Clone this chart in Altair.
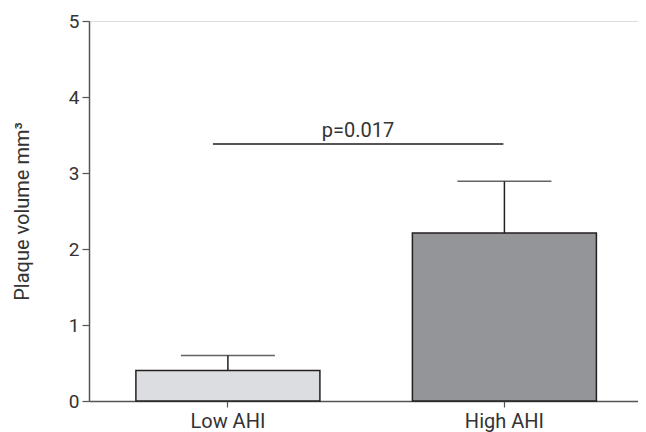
import altair as alt
import pandas as pd

groups = ["Low AHI", "High AHI"]
means = [0.40, 2.21]
err_top = [0.60, 2.89]
fills = ["#dcdde0", "#939598"]
y_ticks = [0, 1, 2, 3, 4, 5]
sig_from = "Low AHI"
sig_to = "High AHI"
sig_y = 3.38
sig_label = "p=0.017"
y_title = "Plaque volume mm³"

df = pd.DataFrame({"group": groups, "mean": means, "top": err_top})
sig = pd.DataFrame({"g1": [sig_from], "g2": [sig_to], "y": [sig_y], "label": [sig_label]})

FONT = "Roboto"
TXT = "#333333"
AX = "#555555"

xscale = alt.Scale(domain=groups, paddingInner=0.3345, paddingOuter=0.16, align=0.53)
yscale = alt.Scale(domain=[0, 5], nice=False)

x_enc = alt.X("group:N", scale=xscale, sort=groups,
              axis=alt.Axis(title=None, labelAngle=0, labelFontSize=20, labelFont=FONT,
                            labelColor=TXT, tickSize=6, labelPadding=4,
                            domainColor=AX, tickColor=AX, domainWidth=1.5, tickWidth=1.2))
y_enc = alt.Y("mean:Q", scale=yscale,
              axis=alt.Axis(title=y_title, values=y_ticks, format="d", grid=False,
                            labelFontSize=19, labelFont=FONT, labelColor=TXT,
                            tickSize=7, labelPadding=3,
                            titleFont=FONT, titleFontSize=20, titleFontWeight="normal",
                            titleColor=TXT, titlePadding=36,
                            domainColor=AX, tickColor=AX, domainWidth=1.5, tickWidth=1.2))

bars = alt.Chart(df).mark_bar(stroke="#231f20", strokeWidth=1.5).encode(
    x=x_enc,
    y=y_enc,
    color=alt.Color("group:N", scale=alt.Scale(domain=groups, range=fills), legend=None),
)

whisk = alt.Chart(df).mark_rule(color="#231f20", strokeWidth=1.5).encode(
    x=alt.X("group:N", scale=xscale, sort=groups),
    y=alt.Y("mean:Q", scale=yscale),
    y2="top:Q",
)

caps = alt.Chart(df).mark_tick(color="#231f20", thickness=1.5, size=94).encode(
    x=alt.X("group:N", scale=xscale, sort=groups),
    y=alt.Y("top:Q", scale=yscale),
)

sig_line = alt.Chart(sig).mark_rule(color="#555555", strokeWidth=2, xOffset=-15, x2Offset=-1).encode(
    x=alt.X("g1:N", scale=xscale),
    x2="g2:N",
    y=alt.Y("y:Q", scale=yscale),
)

sig_text = alt.Chart(sig).mark_text(font=FONT, fontSize=20, color=TXT, baseline="alphabetic",
                                    align="center", dx=130, dy=-7.5).encode(
    x=alt.X("g1:N", scale=xscale),
    y=alt.Y("y:Q", scale=yscale),
    text="label:N",
)

chart = alt.layer(bars, whisk, caps, sig_line, sig_text).properties(
    width=549,
    height=380,
    autosize=alt.AutoSizeParams(type="none"),
    padding={"left": 81, "top": 13, "right": 0, "bottom": 31},
).configure_view(stroke=None).configure(background="white")

chart.save("out.html", embed_options={"renderer": "svg", "actions": False})
